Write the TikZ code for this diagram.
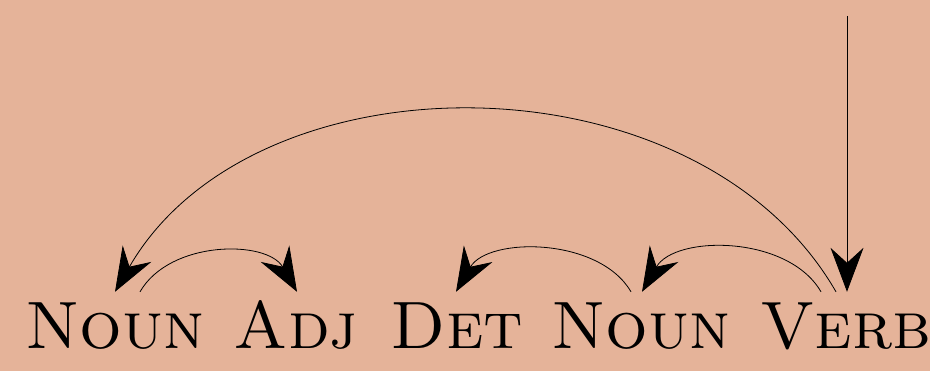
\documentclass[tikz,border=0pt]{standalone}
\usepackage{fix-cm}
\usetikzlibrary{arrows.meta}
\definecolor{bgpeach}{RGB}{229,179,153}
\tikzset{
  word/.style={font=\fontsize{67}{67}\selectfont\scshape, inner sep=0pt, text height=57pt, text depth=0pt, anchor=base},
  dep/.style={line width=0.8pt, -{Stealth[length=44pt, width=33pt, inset=15pt]}}
}
\begin{document}
\begin{tikzpicture}[x=1pt, y=-1pt]
\fill[bgpeach] (0,0) rectangle (930,371);
\useasboundingbox (0,0) rectangle (930,371);
\node[word] (n1) at (115,349) {Noun};
\node[word] (adj) at (296,349) {Adj};
\node[word] (det) at (457,349) {Det};
\node[word] (n2) at (641,349) {Noun};
\node[word] (verb) at (846,349) {Verb};
\coordinate (root) at (847,16);
\draw[dep] ([xshift=-10pt]verb.north) .. controls +(-139,-241) and +(139,-241) .. (n1.north);
\draw[dep] ([xshift=25pt]n1.north) .. controls +(30,-52) and +(-30,-52) .. ([xshift=1pt]adj.north);
\draw[dep] ([xshift=-10pt]n2.north) .. controls +(-32,-55) and +(32,-55) .. ([xshift=-1pt]det.north);
\draw[dep] ([xshift=-25pt]verb.north) .. controls +(-33,-57) and +(33,-57) .. ([xshift=1pt]n2.north);
\draw[dep] (root) -- ([xshift=1pt]verb.north);
\end{tikzpicture}
\end{document}
